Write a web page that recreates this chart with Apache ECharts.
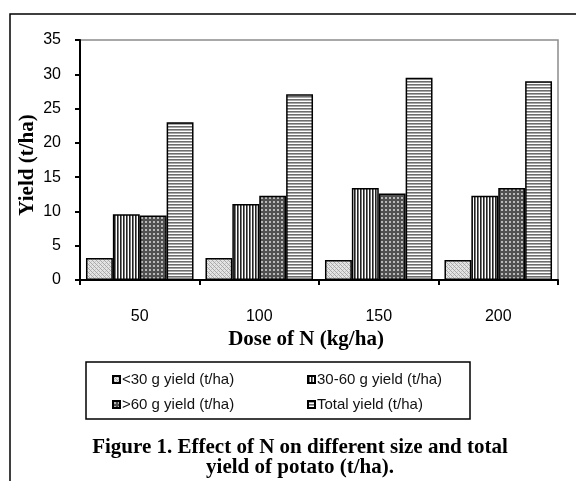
<!DOCTYPE html>
<html>
<head>
<meta charset="utf-8">
<script src="https://cdn.jsdelivr.net/npm/echarts@6/dist/echarts.min.js"></script>
<style>
  html, body { margin: 0; padding: 0; background: #fff; }
  #chart { width: 576px; height: 481px; }
</style>
</head>
<body>
<div id="chart"></div>
<script>
// Nitrogen dose categories (kg/ha) and yields (t/ha)
const doses = ['50', '100', '150', '200'];
const seriesNames = ['<30 g yield (t/ha)', '30-60 g yield (t/ha)', '>60 g yield (t/ha)', 'Total yield (t/ha)'];
const yieldUnder30 = [3.2, 3.2, 2.9, 2.9];
const yield30to60 = [9.6, 11.1, 13.4, 12.3];
const yieldOver60 = [9.4, 12.3, 12.6, 13.4];
const yieldTotal = [23.0, 27.1, 29.5, 29.0];
const yTicks = { min: 0, max: 35, step: 5 };

// Small repeating tiles used as monochrome hatch fills
function tile(w, h, paint) {
  const c = document.createElement('canvas');
  c.width = w; c.height = h;
  paint(c.getContext('2d'));
  return { image: c, repeat: 'repeat' };
}
const fillCheck = tile(4, 4, g => {
  g.fillStyle = '#e4e4e4'; g.fillRect(0, 0, 4, 4);
  g.fillStyle = '#a8a8a8';
  g.fillRect(0, 0, 1, 1); g.fillRect(2, 2, 1, 1);
  g.fillRect(1, 1, 1, 1); g.fillRect(3, 3, 1, 1);
  g.fillStyle = '#c4c4c4';
  g.fillRect(3, 1, 1, 1); g.fillRect(1, 3, 1, 1);
});
const fillVertical = tile(3, 3, g => {
  g.fillStyle = '#ffffff'; g.fillRect(0, 0, 3, 3);
  g.fillStyle = '#222222'; g.fillRect(0, 0, 1, 3);
  g.fillStyle = '#7a7a7a'; g.fillRect(1, 0, 1, 3);
});
const fillDots = tile(4, 4, g => {
  g.fillStyle = '#505050'; g.fillRect(0, 0, 4, 4);
  g.fillStyle = '#b8b8b8'; g.fillRect(1, 1, 2, 2);
});
const fillHorizontal = tile(3, 3, g => {
  g.fillStyle = '#ffffff'; g.fillRect(0, 0, 3, 3);
  g.fillStyle = '#6e6e6e'; g.fillRect(0, 0, 3, 1);
  g.fillStyle = '#a8a8a8'; g.fillRect(0, 1, 3, 1);
});

const fills = [fillCheck, fillVertical, fillDots, fillHorizontal];
const values = [yieldUnder30, yield30to60, yieldOver60, yieldTotal];

const serif = '"Liberation Serif", "Times New Roman", serif';
const sans = '"Liberation Sans", Arial, sans-serif';

const chart = echarts.init(document.getElementById('chart'), null, { renderer: 'canvas' });

const legendCommon = {
  orient: 'vertical',
  itemWidth: 7,
  itemHeight: 7,
  itemGap: 10,
  icon: 'rect',
  textStyle: { fontFamily: sans, fontSize: 15, color: '#111', padding: [0, 0, 0, -3] },
  selectedMode: false
};

chart.setOption({
  animation: false,
  backgroundColor: '#ffffff',
  grid: {
    left: 80, top: 40, right: 18, bottom: 201,
    show: true, borderColor: '#8c8c8c', borderWidth: 1.5
  },
  legend: [
    Object.assign({ data: [seriesNames[0], seriesNames[2]], left: 107, top: 367 }, legendCommon),
    Object.assign({ data: [seriesNames[1], seriesNames[3]], left: 302, top: 367 }, legendCommon)
  ],
  xAxis: {
    type: 'category',
    data: doses,
    name: 'Dose of N (kg/ha)',
    nameLocation: 'middle',
    nameGap: 49,
    nameMoveOverlap: false,
    nameTextStyle: { fontFamily: serif, fontWeight: 'bold', fontSize: 21, color: '#000', padding: [0, 26, 0, 0] },
    axisLine: { lineStyle: { color: '#000', width: 2 } },
    axisTick: { show: true, length: 5, lineStyle: { color: '#000', width: 2 } },
    axisLabel: { margin: 29, fontFamily: sans, fontSize: 16, color: '#000' }
  },
  yAxis: {
    type: 'value',
    min: yTicks.min, max: yTicks.max, interval: yTicks.step,
    name: 'Yield (t/ha)',
    nameLocation: 'middle',
    nameGap: 42,
    nameMoveOverlap: false,
    nameTextStyle: { fontFamily: serif, fontWeight: 'bold', fontSize: 21, color: '#000', padding: [0, 10, 0, 0] },
    splitLine: { show: false },
    axisLine: { show: true, lineStyle: { color: '#000', width: 2 } },
    axisTick: { show: true, length: 5, lineStyle: { color: '#000', width: 2 } },
    axisLabel: { margin: 19, fontFamily: sans, fontSize: 16, color: '#000' }
  },
  series: seriesNames.map((name, i) => ({
    name,
    type: 'bar',
    data: values[i],
    barGap: '0%',
    barCategoryGap: '10%',
    itemStyle: { color: fills[i], borderColor: '#000', borderWidth: 1.5 }
  })),
  graphic: [
    // outer figure frame
    { type: 'rect', shape: { x: 10, y: 14, width: 620, height: 520 }, style: { fill: 'none', stroke: '#000', lineWidth: 1.5 }, silent: true, z: -10 },
    // legend box
    { type: 'rect', shape: { x: 86, y: 362, width: 384, height: 57 }, style: { fill: 'none', stroke: '#000', lineWidth: 1.5 }, silent: true },
    // caption
    { type: 'text', x: 300, y: 438, style: {
        text: 'Figure 1. Effect of N on different size and total\nyield of potato (t/ha).',
        font: 'bold 21px ' + serif, fill: '#000', textAlign: 'center', lineHeight: 20
      } }
  ]
});
</script>
</body>
</html>
